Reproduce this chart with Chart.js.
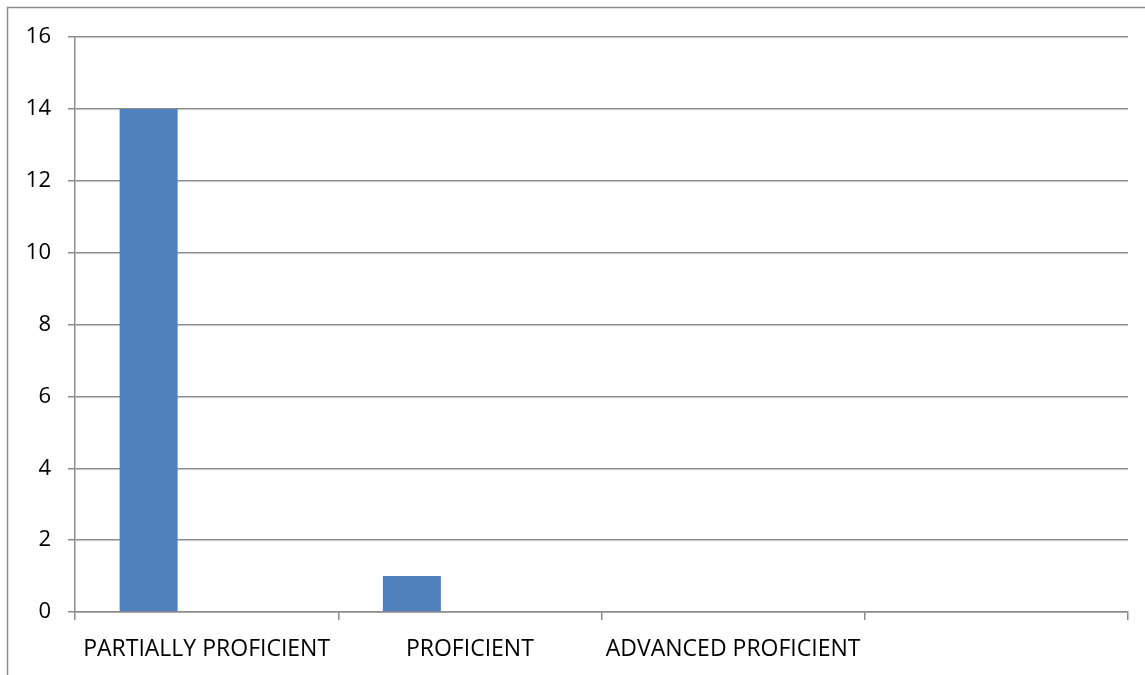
<!DOCTYPE html>
<html>
<head>
<meta charset="utf-8">
<script src="https://cdn.jsdelivr.net/npm/chart.js@4/dist/chart.umd.min.js"></script>
<style>
  html, body { margin: 0; padding: 0; background: #fff; }
  canvas { display: block; }
</style>
</head>
<body>
<canvas id="chart" width="1145" height="675"></canvas>
<script>
// data
var categories = ['PARTIALLY PROFICIENT', 'PROFICIENT', 'ADVANCED PROFICIENT', ''];
var series1 = [14, 1, 0, 0];
var series2 = [0, 0, 0, 0];
var series3 = [0, 0, 0, 0];
var yTicks = [0, 2, 4, 6, 8, 10, 12, 14, 16];

var gridGray = '#8c8c8c';

// outer frame (left and top edges of the chart box)
var framePlugin = {
    id: 'frame',
    beforeDraw: function(chart) {
        var ctx = chart.ctx;
        ctx.save();
        ctx.fillStyle = '#fff';
        ctx.fillRect(0, 0, chart.width, chart.height);
        ctx.strokeStyle = '#8c8c8c';
        ctx.lineWidth = 1.5;
        ctx.beginPath();
        ctx.moveTo(7.5, chart.height);
        ctx.lineTo(7.5, 7.5);
        ctx.lineTo(chart.width, 7.5);
        ctx.stroke();
        ctx.restore();
    }
};

var myChart = new Chart(document.getElementById('chart'), {
    type: 'bar',
    data: {
        labels: categories,
        datasets: [
            { label: 'Series 1', data: series1, backgroundColor: '#4f81bd' },
            { label: 'Series 2', data: series2, backgroundColor: '#c0504d' },
            { label: 'Series 3', data: series3, backgroundColor: '#9bbb59' }
        ]
    },
    options: {
        responsive: false,
        animation: false,
        devicePixelRatio: 1,
        layout: { padding: { left: 0, top: 37, right: 17, bottom: 0 } },
        datasets: {
            bar: { categoryPercentage: 0.661, barPercentage: 1.0, borderWidth: 0 }
        },
        plugins: {
            legend: { display: false },
            title: { display: false },
            tooltip: { enabled: false }
        },
        scales: {
            x: {
                offset: true,
                grid: {
                    offset: true,
                    drawOnChartArea: false,
                    drawTicks: true,
                    tickLength: 8,
                    color: gridGray,
                    lineWidth: 1.5
                },
                border: { display: true, color: gridGray, width: 1.5 },
                ticks: {
                    color: '#000',
                    font: { family: 'Open Sans', size: 23 },
                    padding: 16,
                    maxRotation: 0,
                    autoSkip: false
                },
                afterFit: function(scale) { scale.height = 63; }
            },
            y: {
                min: 0,
                max: 16,
                afterBuildTicks: function(scale) {
                    scale.ticks = yTicks.map(function(v) { return { value: v }; });
                },
                grid: {
                    color: gridGray,
                    lineWidth: 1.5,
                    tickLength: 7
                },
                border: { display: true, color: gridGray, width: 1.5 },
                ticks: {
                    color: '#000',
                    font: { family: 'Open Sans', size: 22 },
                    padding: 17
                },
                afterFit: function(scale) { scale.width = 75; }
            }
        }
    },
    plugins: [framePlugin]
});
</script>
</body>
</html>
